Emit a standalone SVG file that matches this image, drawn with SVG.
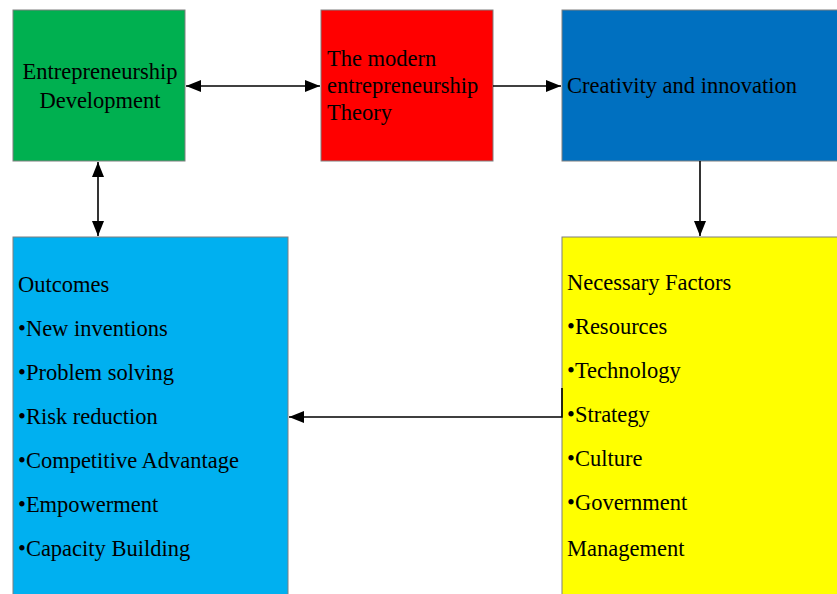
<svg xmlns="http://www.w3.org/2000/svg" width="837" height="594" viewBox="0 0 837 594">
<style>
.box{stroke:#7f7f7f;stroke-width:1}
.t{font-family:"Liberation Serif","Times New Roman",serif;font-size:22.5px;fill:#000}
.c{fill:none;stroke:#000;stroke-width:1.6}
</style>
<defs>
<marker id="ah" viewBox="0 0 15 12" refX="15" refY="6" markerWidth="15" markerHeight="12" markerUnits="userSpaceOnUse" orient="auto-start-reverse">
<path d="M0,0 L15,6 L0,12 z" fill="#000"/>
</marker>
</defs>
<rect width="837" height="594" fill="#fff"/>
<g id="entrepreneurship-development">
<rect class="box" x="13" y="10" width="172" height="151" fill="#00B050"/>
<text class="t" x="100" y="79" text-anchor="middle">Entrepreneurship</text>
<text class="t" x="100" y="108" text-anchor="middle">Development</text>
</g>
<g id="modern-theory">
<rect class="box" x="321" y="10" width="172" height="151" fill="#FF0000"/>
<text class="t" x="327" y="66">The modern</text>
<text class="t" x="327" y="93">entrepreneurship</text>
<text class="t" x="327" y="120">Theory</text>
</g>
<g id="creativity">
<rect class="box" x="562" y="10" width="276" height="151" fill="#0070C0"/>
<text class="t" x="567" y="93">Creativity and innovation</text>
</g>
<g id="outcomes">
<rect class="box" x="13" y="237" width="275" height="360" fill="#00B0F0"/>
<text class="t" x="18" y="292">Outcomes</text>
<text class="t" x="18" y="336">•New inventions</text>
<text class="t" x="18" y="380">•Problem solving</text>
<text class="t" x="18" y="424">•Risk reduction</text>
<text class="t" x="18" y="468">•Competitive Advantage</text>
<text class="t" x="18" y="512">•Empowerment</text>
<text class="t" x="18" y="556">•Capacity Building</text>
</g>
<g id="necessary-factors">
<rect class="box" x="562" y="237" width="276" height="360" fill="#FFFF00"/>
<text class="t" x="567" y="290">Necessary Factors</text>
<text class="t" x="567" y="334">•Resources</text>
<text class="t" x="567" y="378">•Technology</text>
<text class="t" x="567" y="422">•Strategy</text>
<text class="t" x="567" y="466">•Culture</text>
<text class="t" x="567" y="510">•Government</text>
<text class="t" x="567" y="556">Management</text>
</g>
<g id="connectors">
<line class="c" x1="186" y1="86" x2="320" y2="86" marker-start="url(#ah)" marker-end="url(#ah)"/>
<line class="c" x1="493" y1="86" x2="561" y2="86" marker-end="url(#ah)"/>
<line class="c" x1="700" y1="161" x2="700" y2="236" marker-end="url(#ah)"/>
<line class="c" x1="98" y1="162" x2="98" y2="236" marker-start="url(#ah)" marker-end="url(#ah)"/>
<polyline class="c" points="562,388 562,417 289,417" marker-end="url(#ah)"/>
</g>
</svg>
